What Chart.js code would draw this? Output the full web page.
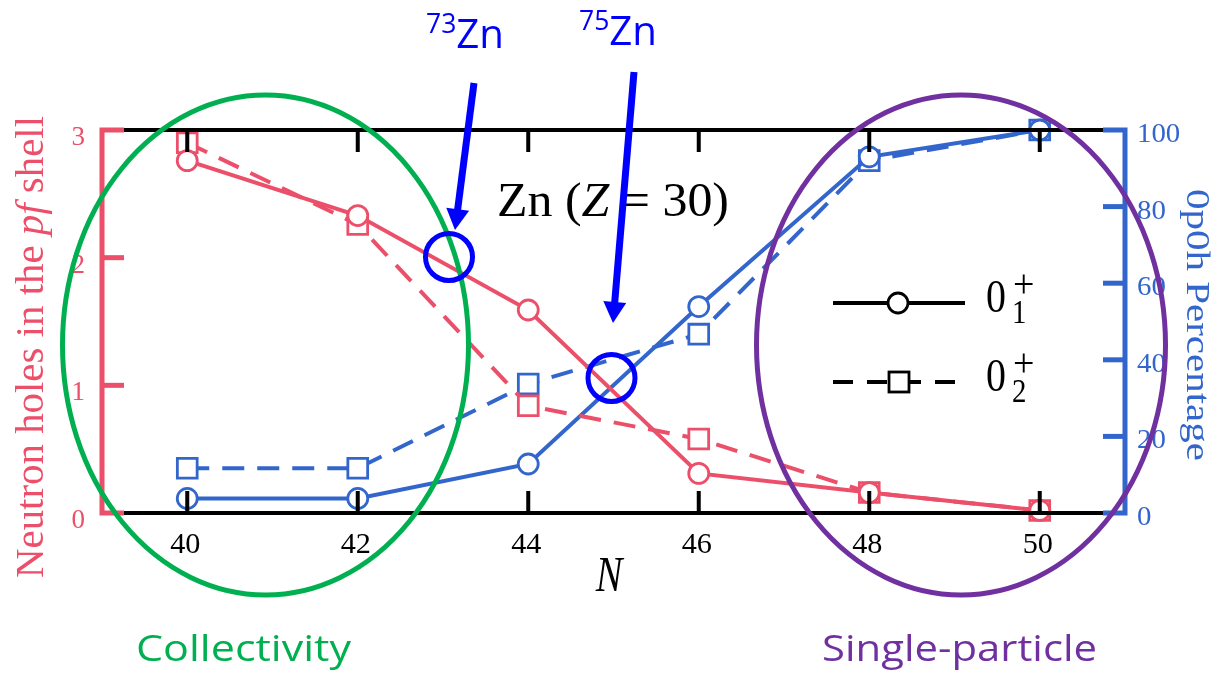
<!DOCTYPE html>
<html>
<head>
<meta charset="utf-8">
<title>Zn (Z = 30)</title>
<script src="https://cdn.jsdelivr.net/npm/chart.js@4/dist/chart.umd.min.js"></script>
<style>
  html, body { margin: 0; padding: 0; background: #fff; }
  canvas { display: block; }
</style>
</head>
<body>
<canvas id="c" width="1230" height="675"></canvas>
<script>
// Neutron number N
const N = [40, 42, 44, 46, 48, 50];
// Neutron holes in the pf shell (left axis)
const holes01 = [2.76, 2.33, 1.59, 0.31, 0.16, 0.02];
const holes02 = [2.90, 2.26, 0.84, 0.58, 0.16, 0.02];
// 0p0h percentage (right axis)
const pct01 = [3.8, 3.8, 12.8, 53.9, 93.0, 100];
const pct02 = [11.7, 11.7, 33.7, 46.7, 92.0, 100];
// Axis ticks
const xTicks = [40, 42, 44, 46, 48, 50];
const holesTicks = [0, 1, 2, 3];
const pctTicks = [0, 20, 40, 60, 80, 100];

const RED = '#EC4F69';
const BLUE = '#3366CC';
const SERIF = '"Liberation Serif", "Times New Roman", serif';
const SANS = '"Open Sans", "Noto Sans", sans-serif';
const DASH = [22, 13];

const pts = (ys) => N.map((n, i) => ({ x: n, y: ys[i] }));

function series(data, axis, color, dashed) {
  return {
    data: pts(data),
    yAxisID: axis,
    borderColor: color,
    borderWidth: 4,
    borderDash: dashed ? DASH : [],
    pointStyle: dashed ? 'rect' : 'circle',
    pointRadius: dashed ? 14 : 10,
    pointBorderWidth: 2.8,
    pointBorderColor: color,
    pointBackgroundColor: '#fff',
    tension: 0,
    clip: false
  };
}

function line(ctx, x0, y0, x1, y1) {
  ctx.beginPath(); ctx.moveTo(x0, y0); ctx.lineTo(x1, y1); ctx.stroke();
}

// Draws a run of text pieces (mixed fonts / offsets), optionally squeezed to a width
function drawRuns(ctx, runs, x, y, opts) {
  const o = Object.assign({ align: 'left', width: null, color: '#000', sy: 1 }, opts || {});
  let total = 0;
  runs.forEach(r => { ctx.font = r.font; r.w = ctx.measureText(r.t).width; total += r.w; });
  const sx = o.width ? o.width / total : (o.sx || 1);
  ctx.save();
  ctx.translate(x, y);
  if (o.rotate) ctx.rotate(o.rotate);
  ctx.scale(sx, o.sy);
  ctx.textBaseline = 'alphabetic';
  ctx.textAlign = 'left';
  let cx = o.align === 'center' ? -total / 2 : (o.align === 'right' ? -total : 0);
  runs.forEach(r => {
    ctx.font = r.font;
    ctx.fillStyle = r.color || o.color;
    ctx.fillText(r.t, cx, r.dy || 0);
    cx += r.w;
  });
  ctx.restore();
}

function arrow(ctx, x0, y0, x1, y1, color) {
  const w = 7, headLen = 21, headW = 23;
  const ang = Math.atan2(y1 - y0, x1 - x0);
  const bx = x1 - headLen * Math.cos(ang), by = y1 - headLen * Math.sin(ang);
  ctx.strokeStyle = color; ctx.fillStyle = color; ctx.lineWidth = w; ctx.lineCap = 'butt';
  line(ctx, x0, y0, bx + Math.cos(ang), by + Math.sin(ang));
  ctx.beginPath();
  ctx.moveTo(x1, y1);
  ctx.lineTo(bx + headW / 2 * Math.sin(ang), by - headW / 2 * Math.cos(ang));
  ctx.lineTo(bx - headW / 2 * Math.sin(ang), by + headW / 2 * Math.cos(ang));
  ctx.closePath();
  ctx.fill();
}

// Box frame: black top/bottom, coloured side axes, inward ticks, tick labels
const framePlugin = {
  id: 'frame',
  afterDatasetsDraw(chart) {
    const { ctx, chartArea: a, scales } = chart;
    const { x, y, y1 } = scales;
    const cap = 22;
    ctx.save();
    ctx.lineCap = 'butt';

    ctx.strokeStyle = '#000';
    ctx.lineWidth = 4;
    line(ctx, a.left + cap, a.top, a.right - cap, a.top);
    line(ctx, a.left + cap, a.bottom, a.right - cap, a.bottom);
    x.ticks.forEach(t => {
      const px = x.getPixelForValue(t.value);
      line(ctx, px, a.top, px, a.top + cap);
      line(ctx, px, a.bottom, px, a.bottom - cap);
      drawRuns(ctx, [{ t: String(t.value), font: '28px ' + SERIF }], px - 2, a.bottom + 40,
        { align: 'center', sx: 1.08, sy: 1.05 });
    });

    ctx.lineWidth = 5;
    ctx.lineJoin = 'miter';
    ctx.strokeStyle = RED;
    ctx.beginPath();
    ctx.moveTo(a.left + cap, a.top); ctx.lineTo(a.left, a.top);
    ctx.lineTo(a.left, a.bottom); ctx.lineTo(a.left + cap, a.bottom);
    ctx.stroke();
    y.ticks.forEach(t => {
      const py = y.getPixelForValue(t.value);
      if (t.value > y.min && t.value < y.max) line(ctx, a.left, py, a.left + cap, py);
      drawRuns(ctx, [{ t: String(t.value), font: '27px ' + SERIF }], 85, py + 15,
        { align: 'right', color: RED });
    });

    ctx.strokeStyle = BLUE;
    ctx.beginPath();
    ctx.moveTo(a.right - cap, a.top); ctx.lineTo(a.right, a.top);
    ctx.lineTo(a.right, a.bottom); ctx.lineTo(a.right - cap, a.bottom);
    ctx.stroke();
    y1.ticks.forEach(t => {
      const py = y1.getPixelForValue(t.value);
      if (t.value > y1.min && t.value < y1.max) line(ctx, a.right - cap, py, a.right, py);
      drawRuns(ctx, [{ t: String(t.value), font: '28px ' + SERIF }], 1137, py + 12,
        { color: BLUE, sx: 1.03 });
    });
    ctx.restore();
  }
};

// Axis titles, legend and the highlighted regions
const notesPlugin = {
  id: 'notes',
  afterDraw(chart) {
    const ctx = chart.ctx;
    ctx.save();

    // axis titles
    drawRuns(ctx, [
      { t: 'Neutron holes in the ', font: '40px ' + SERIF },
      { t: 'pf', font: 'italic 40px ' + SERIF },
      { t: ' shell', font: '40px ' + SERIF }
    ], 43, 347, { align: 'center', width: 462, color: RED, rotate: -Math.PI / 2 });
    drawRuns(ctx, [{ t: '0p0h Percentage', font: '34px ' + SERIF }],
      1187, 325, { align: 'center', width: 272, color: BLUE, rotate: Math.PI / 2 });
    drawRuns(ctx, [{ t: 'N', font: 'italic 50px ' + SERIF }], 609, 591, { align: 'center', sx: 0.8 });

    // system label
    drawRuns(ctx, [
      { t: 'Zn (', font: '48px ' + SERIF },
      { t: 'Z', font: 'italic 48px ' + SERIF },
      { t: ' = 30)', font: '48px ' + SERIF }
    ], 497, 216, { width: 232 });

    // legend
    ctx.strokeStyle = '#000'; ctx.lineWidth = 4; ctx.lineCap = 'butt';
    line(ctx, 833, 303, 965, 303);
    ctx.beginPath(); ctx.arc(898, 303, 10, 0, Math.PI * 2);
    ctx.fillStyle = '#fff'; ctx.fill(); ctx.lineWidth = 2.8; ctx.stroke();
    ctx.lineWidth = 4;
    ctx.setLineDash([20, 14]);
    line(ctx, 833, 382, 965, 382);
    ctx.setLineDash([]);
    ctx.fillStyle = '#fff'; ctx.fillRect(889, 372, 20, 20);
    ctx.lineWidth = 2.8; ctx.strokeRect(889, 372, 20, 20);

    const legendLabel = (sub, base) => {
      drawRuns(ctx, [{ t: '0', font: '47px ' + SERIF }], 986, base, { sx: 0.85 });
      drawRuns(ctx, [{ t: sub, font: '34px ' + SERIF }], 1012, base + 11, { sx: 0.85 });
      drawRuns(ctx, [{ t: '+', font: '40px ' + SERIF }], 1013, base - 15, { sx: 0.95 });
    };
    legendLabel('1', 312);
    legendLabel('2', 391);

    // highlighted regions
    ctx.lineWidth = 5;
    ctx.strokeStyle = '#00B050';
    ctx.beginPath(); ctx.ellipse(265.5, 345, 203, 250, 0, 0, Math.PI * 2); ctx.stroke();
    ctx.strokeStyle = '#7030A0';
    ctx.beginPath(); ctx.ellipse(961, 345, 204.5, 250, 0, 0, Math.PI * 2); ctx.stroke();

    // crossing points
    ctx.strokeStyle = '#0000FF';
    ctx.beginPath(); ctx.arc(449, 257, 23.5, 0, Math.PI * 2); ctx.stroke();
    ctx.beginPath(); ctx.arc(611.5, 378, 23.5, 0, Math.PI * 2); ctx.stroke();

    arrow(ctx, 474, 83, 455, 230, '#0000FF');
    arrow(ctx, 634, 72, 613, 323, '#0000FF');

    drawRuns(ctx, [
      { t: '73', font: '27px ' + SANS, dy: -15 },
      { t: 'Zn', font: '41px ' + SANS }
    ], 426, 48, { width: 78, color: '#0000FF' });
    drawRuns(ctx, [
      { t: '75', font: '27px ' + SANS, dy: -15 },
      { t: 'Zn', font: '41px ' + SANS }
    ], 579, 45, { width: 78, color: '#0000FF' });

    drawRuns(ctx, [{ t: 'Collectivity', font: '37px ' + SANS }], 136, 661, { width: 215, color: '#00B050' });
    drawRuns(ctx, [{ t: 'Single-particle', font: '37px ' + SANS }], 822, 661, { width: 275, color: '#7030A0' });

    ctx.restore();
  }
};

new Chart(document.getElementById('c'), {
  type: 'line',
  data: {
    datasets: [
      series(holes01, 'y', RED, false),
      series(holes02, 'y', RED, true),
      series(pct01, 'y1', BLUE, false),
      series(pct02, 'y1', BLUE, true)
    ]
  },
  options: {
    responsive: false,
    animation: false,
    events: [],
    layout: { padding: { left: 62, top: 130, right: 0, bottom: 0 } },
    plugins: { legend: { display: false }, tooltip: { enabled: false } },
    scales: {
      x: {
        type: 'linear', position: 'bottom', min: 39, max: 51,
        afterBuildTicks: s => { s.ticks = xTicks.map(v => ({ value: v })); },
        afterFit: s => { s.height = 162; },
        grid: { display: false, drawTicks: false },
        border: { display: false },
        ticks: { display: false }
      },
      y: {
        type: 'linear', position: 'left', min: 0, max: 3,
        afterBuildTicks: s => { s.ticks = holesTicks.map(v => ({ value: v })); },
        afterFit: s => { s.width = 40; },
        grid: { display: false, drawTicks: false },
        border: { display: false },
        ticks: { display: false }
      },
      y1: {
        type: 'linear', position: 'right', min: 0, max: 100,
        afterBuildTicks: s => { s.ticks = pctTicks.map(v => ({ value: v })); },
        afterFit: s => { s.width = 105; },
        grid: { display: false, drawTicks: false },
        border: { display: false },
        ticks: { display: false }
      }
    }
  },
  plugins: [framePlugin, notesPlugin]
});
</script>
</body>
</html>
